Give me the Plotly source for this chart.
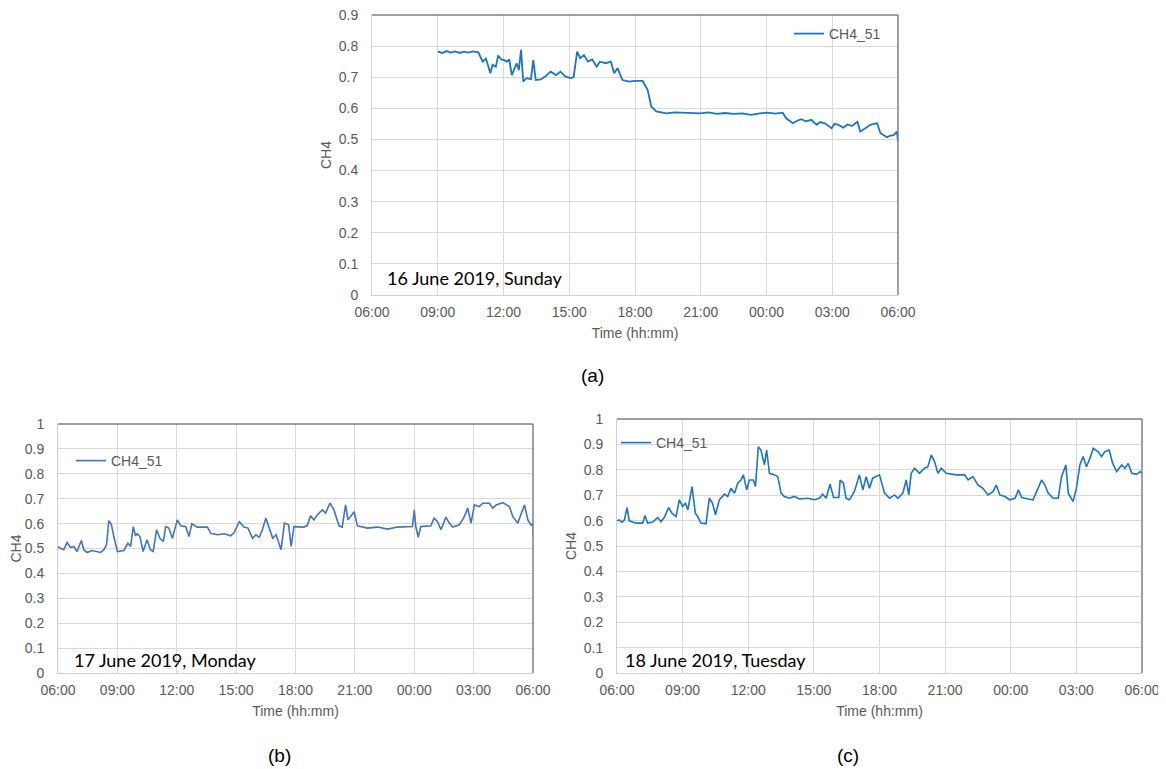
import plotly.graph_objects as go

# ---------------- data (time in hours from 06:00 of the day, 30 = 06:00 next day) --------------
tick_vals = [6, 9, 12, 15, 18, 21, 24, 27, 30]
tick_text = ["06:00", "09:00", "12:00", "15:00", "18:00", "21:00", "00:00", "03:00", "06:00"]

series_name = "CH4_51"

# (a) 16 June 2019, Sunday
time_a = [9.0, 9.2, 9.4, 9.6, 9.8, 10.0, 10.2, 10.4, 10.6, 10.85, 11.05, 11.2, 11.4, 11.5, 11.65,
          11.76, 11.9, 12.03, 12.15, 12.26, 12.38, 12.5, 12.6, 12.7, 12.8, 12.9, 13.05, 13.25, 13.36,
          13.47, 13.7, 13.9, 14.15, 14.4, 14.6, 14.83, 15.06, 15.2, 15.36, 15.5, 15.67, 15.85, 16.05,
          16.25, 16.4, 16.66, 16.9, 17.05, 17.2, 17.43, 17.74, 18.0, 18.35, 18.58, 18.74, 18.97, 19.2,
          19.43, 19.8, 20.2, 20.6, 20.97, 21.35, 21.74, 22.1, 22.5, 22.9, 23.28, 23.7, 24.05, 24.4,
          24.74, 24.9, 25.2, 25.4, 25.58, 25.8, 26.05, 26.28, 26.45, 26.66, 26.8, 26.97, 27.1, 27.28,
          27.5, 27.7, 27.9, 28.15, 28.28, 28.5, 28.74, 28.9, 29.05, 29.2, 29.35, 29.5, 29.65, 29.8,
          29.95, 30.0]
ch4_a = [0.782, 0.778, 0.784, 0.779, 0.783, 0.778, 0.782, 0.779, 0.783, 0.78, 0.75, 0.76, 0.713, 0.74, 0.734,
         0.77, 0.757, 0.755, 0.75, 0.757, 0.707, 0.729, 0.745, 0.723, 0.788, 0.686, 0.697, 0.694, 0.755,
         0.691, 0.693, 0.702, 0.718, 0.707, 0.718, 0.702, 0.697, 0.70, 0.782, 0.761, 0.771, 0.75, 0.757,
         0.734, 0.75, 0.745, 0.75, 0.713, 0.729, 0.691, 0.686, 0.688, 0.688, 0.659, 0.606, 0.59, 0.586,
         0.584, 0.587, 0.586, 0.583, 0.584, 0.587, 0.582, 0.585, 0.582, 0.584, 0.579, 0.584, 0.586, 0.583,
         0.586, 0.568, 0.552, 0.56, 0.565, 0.558, 0.563, 0.547, 0.556, 0.552, 0.545, 0.536, 0.55, 0.547,
         0.538, 0.548, 0.543, 0.557, 0.525, 0.536, 0.547, 0.55, 0.552, 0.52, 0.512, 0.507, 0.512, 0.514,
         0.525, 0.493]

# (b) 17 June 2019, Monday
time_b = [6.0, 6.12, 6.29, 6.46, 6.63, 6.8, 6.96, 7.18, 7.3, 7.47, 7.72, 8.15, 8.32, 8.45, 8.57, 8.7,
          8.82, 9.0, 9.33, 9.53, 9.67, 9.8, 9.92, 10.0, 10.14, 10.3, 10.5, 10.67, 10.81, 10.98, 11.15,
          11.32, 11.44, 11.6, 11.78, 12.03, 12.2, 12.45, 12.62, 12.76, 13.04, 13.55, 13.72, 14.06, 14.4,
          14.73, 14.9, 15.16, 15.4, 15.6, 15.83, 16.0, 16.17, 16.34, 16.5, 16.68, 16.85, 17.02, 17.27,
          17.44, 17.65, 17.78, 17.92, 18.42, 18.59, 18.76, 18.93, 19.1, 19.35, 19.52, 19.74, 19.94,
          20.2, 20.36, 20.53, 20.65, 20.79, 20.96, 21.13, 21.63, 22.14, 22.65, 23.15, 23.91, 24.0,
          24.08, 24.2, 24.33, 24.84, 25.0, 25.18, 25.35, 25.6, 25.77, 25.94, 26.28, 26.53, 26.7, 26.87,
          27.04, 27.29, 27.46, 27.8, 27.97, 28.14, 28.47, 28.81, 28.98, 29.23, 29.4, 29.57, 29.74,
          29.9, 30.0, 30.02]
ch4_b = [0.508, 0.501, 0.495, 0.524, 0.505, 0.508, 0.488, 0.532, 0.495, 0.484, 0.492, 0.484, 0.495, 0.515,
         0.612, 0.595, 0.548, 0.488, 0.492, 0.521, 0.508, 0.588, 0.551, 0.559, 0.548, 0.488, 0.535,
         0.495, 0.488, 0.575, 0.541, 0.528, 0.588, 0.582, 0.541, 0.615, 0.591, 0.588, 0.548, 0.599,
         0.586, 0.586, 0.561, 0.555, 0.559, 0.551, 0.564, 0.608, 0.586, 0.582, 0.541, 0.555, 0.545,
         0.578, 0.622, 0.582, 0.541, 0.555, 0.495, 0.602, 0.595, 0.508, 0.588, 0.586, 0.592, 0.631,
         0.615, 0.635, 0.655, 0.642, 0.682, 0.655, 0.591, 0.586, 0.675, 0.615, 0.628, 0.648, 0.591,
         0.582, 0.586, 0.578, 0.586, 0.588, 0.655, 0.588, 0.545, 0.588, 0.591, 0.622, 0.608, 0.575,
         0.626, 0.602, 0.586, 0.595, 0.628, 0.662, 0.602, 0.675, 0.668, 0.682, 0.682, 0.662, 0.675,
         0.684, 0.668, 0.628, 0.602, 0.642, 0.675, 0.615, 0.595, 0.6, 0.541]

# (c) 18 June 2019, Tuesday
time_c = [6.0, 6.1, 6.23, 6.34, 6.46, 6.56, 6.87, 7.17, 7.28, 7.4, 7.63, 7.86, 8.01, 8.16, 8.36, 8.51,
          8.7, 8.85, 9.0, 9.13, 9.24, 9.43, 9.58, 9.69, 9.84, 10.07, 10.22, 10.37, 10.5, 10.68, 10.91,
          11.06, 11.21, 11.37, 11.52, 11.67, 11.78, 11.93, 12.05, 12.23, 12.33, 12.46, 12.58, 12.74,
          12.84, 12.97, 13.2, 13.35, 13.5, 13.65, 13.88, 14.1, 14.34, 14.72, 15.03, 15.25, 15.4, 15.56,
          15.74, 15.9, 16.14, 16.2, 16.35, 16.47, 16.63, 16.85, 17.08, 17.24, 17.39, 17.54, 17.69, 18.0,
          18.23, 18.46, 18.69, 18.84, 19.07, 19.22, 19.34, 19.45, 19.6, 19.83, 20.06, 20.21, 20.37,
          20.52, 20.67, 20.82, 21.05, 21.51, 21.89, 22.05, 22.27, 22.5, 22.73, 22.96, 23.19, 23.34,
          23.5, 23.73, 23.95, 24.2, 24.35, 24.5, 24.8, 25.02, 25.18, 25.41, 25.56, 25.71, 25.94, 26.17,
          26.32, 26.52, 26.63, 26.75, 26.85, 27.0, 27.16, 27.31, 27.46, 27.62, 27.77, 28.0, 28.15,
          28.3, 28.5, 28.66, 28.84, 29.07, 29.22, 29.37, 29.53, 29.76, 29.91, 30.0]
ch4_c = [0.599, 0.603, 0.594, 0.603, 0.651, 0.599, 0.59, 0.59, 0.62, 0.59, 0.594, 0.612, 0.596, 0.612,
         0.651, 0.629, 0.616, 0.682, 0.655, 0.668, 0.642, 0.734, 0.629, 0.616, 0.59, 0.587, 0.688,
         0.668, 0.623, 0.682, 0.704, 0.695, 0.727, 0.708, 0.747, 0.76, 0.78, 0.721, 0.76, 0.76, 0.734,
         0.891, 0.878, 0.819, 0.878, 0.786, 0.78, 0.773, 0.708, 0.695, 0.688, 0.695, 0.685, 0.688,
         0.682, 0.688, 0.704, 0.688, 0.743, 0.691, 0.691, 0.76, 0.747, 0.688, 0.682, 0.714, 0.78,
         0.721, 0.773, 0.727, 0.767, 0.78, 0.708, 0.688, 0.701, 0.688, 0.708, 0.76, 0.701, 0.786,
         0.806, 0.786, 0.806, 0.812, 0.858, 0.832, 0.786, 0.806, 0.786, 0.78, 0.78, 0.76, 0.773, 0.74,
         0.727, 0.701, 0.714, 0.74, 0.701, 0.695, 0.682, 0.688, 0.721, 0.691, 0.685, 0.682, 0.714,
         0.76, 0.74, 0.708, 0.688, 0.688, 0.773, 0.819, 0.708, 0.688, 0.675, 0.727, 0.819, 0.852,
         0.812, 0.845, 0.885, 0.871, 0.852, 0.871, 0.878, 0.825, 0.793, 0.819, 0.806, 0.825, 0.786,
         0.782, 0.793, 0.786]

panel_labels = ["16 June 2019, Sunday", "17 June 2019, Monday", "18 June 2019, Tuesday"]
captions = ["(a)", "(b)", "(c)"]

# ---------------- layout helpers --------------
W, H = 1166, 769
OFF = 8  # default page body margin: figure is drawn 8px right/down in the page
def fx(px):
    return (px - OFF) / W
def fy(py):
    return 1 - (py - OFF) / H

blue_a = "#1b75c6"
blue_b = "#4472c4"
grid = "#d9d9d9"
tick_col = "#595959"
font_ax = "Liberation Sans, Arial, sans-serif"

fig = go.Figure()
fig.add_trace(go.Scatter(x=time_a, y=ch4_a, mode="lines", name=series_name,
                         line=dict(color=blue_a, width=1.8), xaxis="x", yaxis="y", legend="legend"))
fig.add_trace(go.Scatter(x=time_b, y=ch4_b, mode="lines", name=series_name,
                         line=dict(color=blue_b, width=1.6), xaxis="x2", yaxis="y2", legend="legend2"))
fig.add_trace(go.Scatter(x=time_c, y=ch4_c, mode="lines", name=series_name,
                         line=dict(color=blue_a, width=1.6), xaxis="x3", yaxis="y3", legend="legend3"))

def xax(domain, anchor):
    return dict(domain=domain, anchor=anchor, range=[6, 30], tickvals=tick_vals, ticktext=tick_text,
                showgrid=True, gridcolor=grid, gridwidth=1, zeroline=False, showline=True,
                linecolor="#cfcfcf", linewidth=1, ticks="", ticklabelstandoff=4, automargin=False,
                ticklabeloverflow="allow",
                tickfont=dict(family=font_ax, size=14, color=tick_col),
                title=dict(text="Time (hh:mm)", font=dict(family=font_ax, size=14, color=tick_col), standoff=9))

def yax(domain, anchor, top):
    return dict(domain=domain, anchor=anchor, range=[0, top], dtick=0.1, tick0=0,
                showgrid=True, gridcolor=grid, gridwidth=1, zeroline=False, showline=True,
                linecolor="#cfcfcf", linewidth=1, ticks="", ticklabelstandoff=10, automargin=False,
                ticklabeloverflow="allow",
                tickfont=dict(family=font_ax, size=14, color=tick_col),
                title=dict(text="CH4", font=dict(family=font_ax, size=14, color=tick_col), standoff=3))

dom_a_x = [fx(372), fx(898)]
dom_a_y = [fy(295), fy(15)]
dom_b_x = [fx(58), fx(533)]
dom_b_y = [fy(673), fy(424)]
dom_c_x = [fx(617), fx(1142)]
dom_c_y = [fy(673), fy(419)]

legend_common = dict(bgcolor="rgba(0,0,0,0)", borderwidth=0, itemwidth=30, xanchor="left",
                     yanchor="middle", font=dict(family=font_ax, size=14, color=tick_col),
                     tracegroupgap=0)

fig.update_layout(
    width=W, height=H, autosize=False,
    margin=dict(l=0, r=0, t=0, b=0, autoexpand=False),
    paper_bgcolor="white", plot_bgcolor="white",
    xaxis=xax(dom_a_x, "y"), yaxis=yax(dom_a_y, "x", 0.9),
    xaxis2=xax(dom_b_x, "y2"), yaxis2=yax(dom_b_y, "x2", 1.0),
    xaxis3=xax(dom_c_x, "y3"), yaxis3=yax(dom_c_y, "x3", 1.0),
    legend=dict(x=fx(789), y=fy(34), **legend_common),
    legend2=dict(x=fx(71), y=fy(461), **legend_common),
    legend3=dict(x=fx(616), y=fy(443), **legend_common),
    showlegend=True,
)

# dark top/right border of each plot frame
for xs, ys in [("x", "y"), ("x2", "y2"), ("x3", "y3")]:
    fig.add_shape(type="line", xref=f"{xs} domain", yref=f"{ys} domain", x0=0, x1=1, y0=1, y1=1,
                  line=dict(color="#808080", width=1.5), layer="above")
    fig.add_shape(type="line", xref=f"{xs} domain", yref=f"{ys} domain", x0=1, x1=1, y0=0, y1=1,
                  line=dict(color="#808080", width=1.5), layer="above")

# date labels inside plots
for txt, (xpx, ypx) in zip(panel_labels, [(385, 278), (72, 660), (623, 660)]):
    fig.add_annotation(text=txt, xref="paper", yref="paper", x=fx(xpx), y=fy(ypx),
                       xanchor="left", yanchor="middle", showarrow=False,
                       font=dict(family="Lato, Carlito, sans-serif", size=18, color="black"))

# captions
for txt, (cx, cy) in zip(captions, [(592, 375), (279, 755), (848, 755)]):
    fig.add_annotation(text=txt, xref="paper", yref="paper", x=fx(cx), y=fy(cy),
                       xanchor="center", yanchor="middle", showarrow=False,
                       font=dict(family=font_ax, size=19, color="black"))

fig.write_html("out.html")
